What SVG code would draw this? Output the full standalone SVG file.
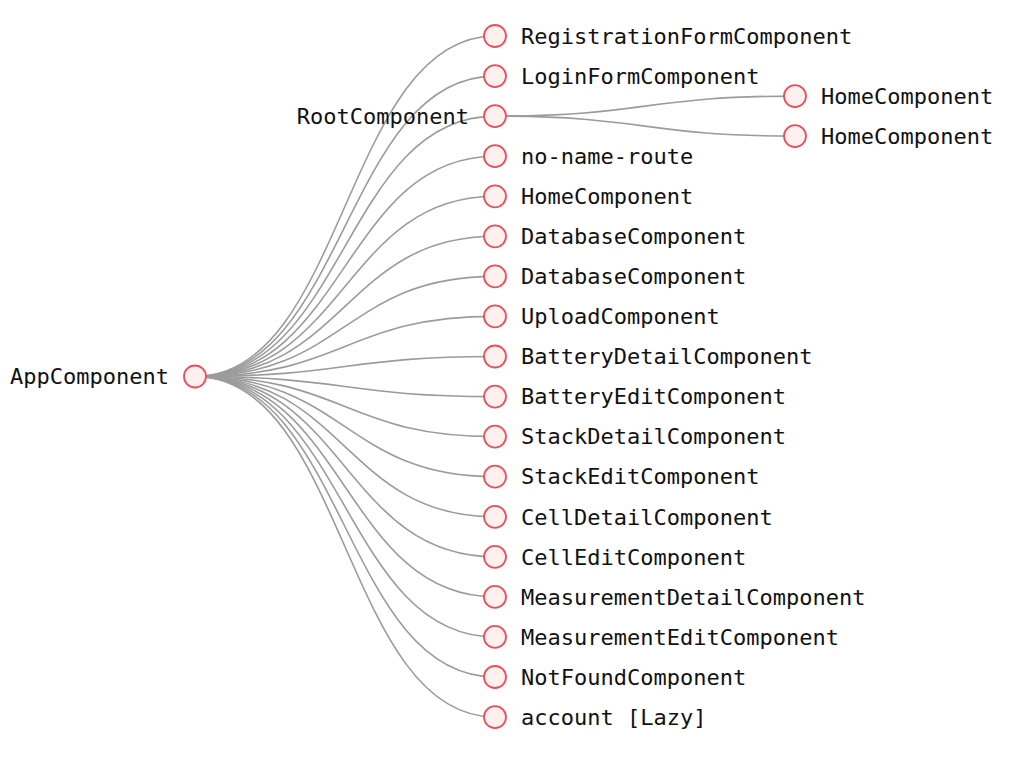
<svg xmlns="http://www.w3.org/2000/svg" width="1022" height="762" viewBox="0 0 1022 762">
<style>
.link{fill:none;stroke:#9b9b9b;stroke-width:1.6}
.node circle{fill:#fff0f0;stroke:#e8505b;stroke-width:1.8}
.node text{font-family:"DejaVu Sans Mono","Liberation Mono",monospace;font-size:22px;fill:#111}
.l{text-anchor:start}
.r{text-anchor:end}
</style>
<rect width="1022" height="762" fill="#fff"/>
<g id="links">
<path class="link" d="M195,376.5C345,376.5 345,36 495,36"/>
<path class="link" d="M195,376.5C345,376.5 345,76.1 495,76.1"/>
<path class="link" d="M195,376.5C345,376.5 345,116.1 495,116.1"/>
<path class="link" d="M195,376.5C345,376.5 345,156.2 495,156.2"/>
<path class="link" d="M195,376.5C345,376.5 345,196.3 495,196.3"/>
<path class="link" d="M195,376.5C345,376.5 345,236.3 495,236.3"/>
<path class="link" d="M195,376.5C345,376.5 345,276.4 495,276.4"/>
<path class="link" d="M195,376.5C345,376.5 345,316.4 495,316.4"/>
<path class="link" d="M195,376.5C345,376.5 345,356.5 495,356.5"/>
<path class="link" d="M195,376.5C345,376.5 345,396.6 495,396.6"/>
<path class="link" d="M195,376.5C345,376.5 345,436.6 495,436.6"/>
<path class="link" d="M195,376.5C345,376.5 345,476.7 495,476.7"/>
<path class="link" d="M195,376.5C345,376.5 345,516.8 495,516.8"/>
<path class="link" d="M195,376.5C345,376.5 345,556.8 495,556.8"/>
<path class="link" d="M195,376.5C345,376.5 345,596.9 495,596.9"/>
<path class="link" d="M195,376.5C345,376.5 345,636.9 495,636.9"/>
<path class="link" d="M195,376.5C345,376.5 345,677 495,677"/>
<path class="link" d="M195,376.5C345,376.5 345,717.1 495,717.1"/>
<path class="link" d="M495,116.1C645,116.1 645,96.1 795,96.1"/>
<path class="link" d="M495,116.1C645,116.1 645,136.1 795,136.1"/>
</g>
<g id="n-app" class="node" transform="translate(195,376.5)"><circle r="11"/><text class="r" x="-26" dy="0.35em">AppComponent</text></g>
<g id="n-registration" class="node" transform="translate(495,36)"><circle r="11"/><text class="l" x="26" dy="0.35em">RegistrationFormComponent</text></g>
<g id="n-login" class="node" transform="translate(495,76.1)"><circle r="11"/><text class="l" x="26" dy="0.35em">LoginFormComponent</text></g>
<g id="n-root" class="node" transform="translate(495,116.1)"><circle r="11"/><text class="r" x="-26" dy="0.35em">RootComponent</text></g>
<g id="n-noname" class="node" transform="translate(495,156.2)"><circle r="11"/><text class="l" x="26" dy="0.35em">no-name-route</text></g>
<g id="n-home" class="node" transform="translate(495,196.3)"><circle r="11"/><text class="l" x="26" dy="0.35em">HomeComponent</text></g>
<g id="n-db1" class="node" transform="translate(495,236.3)"><circle r="11"/><text class="l" x="26" dy="0.35em">DatabaseComponent</text></g>
<g id="n-db2" class="node" transform="translate(495,276.4)"><circle r="11"/><text class="l" x="26" dy="0.35em">DatabaseComponent</text></g>
<g id="n-upload" class="node" transform="translate(495,316.4)"><circle r="11"/><text class="l" x="26" dy="0.35em">UploadComponent</text></g>
<g id="n-batdetail" class="node" transform="translate(495,356.5)"><circle r="11"/><text class="l" x="26" dy="0.35em">BatteryDetailComponent</text></g>
<g id="n-batedit" class="node" transform="translate(495,396.6)"><circle r="11"/><text class="l" x="26" dy="0.35em">BatteryEditComponent</text></g>
<g id="n-stackdetail" class="node" transform="translate(495,436.6)"><circle r="11"/><text class="l" x="26" dy="0.35em">StackDetailComponent</text></g>
<g id="n-stackedit" class="node" transform="translate(495,476.7)"><circle r="11"/><text class="l" x="26" dy="0.35em">StackEditComponent</text></g>
<g id="n-celldetail" class="node" transform="translate(495,516.8)"><circle r="11"/><text class="l" x="26" dy="0.35em">CellDetailComponent</text></g>
<g id="n-celledit" class="node" transform="translate(495,556.8)"><circle r="11"/><text class="l" x="26" dy="0.35em">CellEditComponent</text></g>
<g id="n-measdetail" class="node" transform="translate(495,596.9)"><circle r="11"/><text class="l" x="26" dy="0.35em">MeasurementDetailComponent</text></g>
<g id="n-measedit" class="node" transform="translate(495,636.9)"><circle r="11"/><text class="l" x="26" dy="0.35em">MeasurementEditComponent</text></g>
<g id="n-notfound" class="node" transform="translate(495,677)"><circle r="11"/><text class="l" x="26" dy="0.35em">NotFoundComponent</text></g>
<g id="n-account" class="node" transform="translate(495,717.1)"><circle r="11"/><text class="l" x="26" dy="0.35em">account [Lazy]</text></g>
<g id="n-home-a" class="node" transform="translate(795,96.1)"><circle r="11"/><text class="l" x="26" dy="0.35em">HomeComponent</text></g>
<g id="n-home-b" class="node" transform="translate(795,136.1)"><circle r="11"/><text class="l" x="26" dy="0.35em">HomeComponent</text></g>
</svg>
